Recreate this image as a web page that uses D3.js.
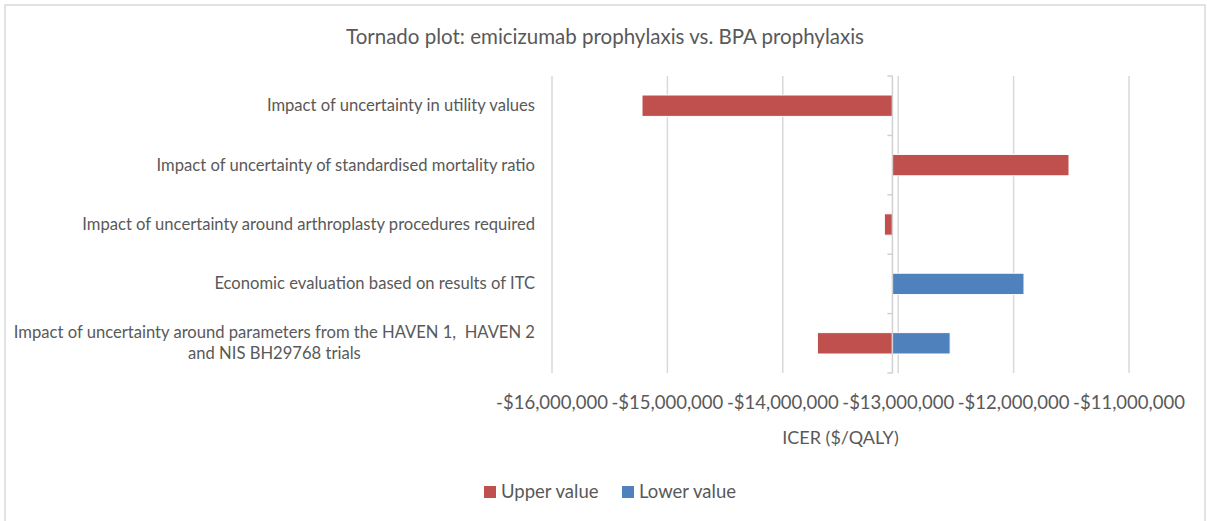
<!DOCTYPE html>
<html>
<head>
<meta charset="utf-8">
<script src="https://cdn.jsdelivr.net/npm/d3@7"></script>
<style>
	body { margin: 0; background: #fff; }
	text { font-family: Lato, "Noto Sans", sans-serif; fill: #595959; white-space: pre; }
</style>
</head>
<body>
<div id="chart"></div>
<script>

// values
var categories = [
	"Impact of uncertainty in utility values",
	"Impact of uncertainty of standardised mortality ratio",
	"Impact of uncertainty around arthroplasty procedures required",
	"Economic evaluation based on results of ITC",
	["Impact of uncertainty around parameters from the HAVEN 1,  HAVEN 2", "and NIS BH29768 trials"]
]

var baseValue = -13050000

var upperValues = [-15220000, -11520000, -13120000, null, -13700000]

var lowerValues = [null, null, null, -11910000, -12550000]

var xTicks = [-16000000, -15000000, -14000000, -13000000, -12000000, -11000000]

var seriesNames = ["Upper value", "Lower value"]

var colours = ["#C0504D", "#4F81BD"]

var width = 1207
var height = 521

var svg = d3.select("#chart").append("svg")
	.attr("width", width)
	.attr("height", height)

// chart area border
svg.append("rect")
	.attr("x", 5)
	.attr("y", 5)
	.attr("width", 1200)
	.attr("height", 530)
	.attr("fill", "none")
	.attr("stroke", "#d9d9d9")
	.attr("stroke-width", 1.5)

svg.append("text")
	.attr("x", 605)
	.attr("y", 44)
	.attr("text-anchor", "middle")
	.style("font-size", "20.5px")
	.text("Tornado plot: emicizumab prophylaxis vs. BPA prophylaxis")

var x = d3.scaleLinear()
	.domain([-16000000, -11000000])
	.range([552, 1129])

var y = d3.scaleBand()
	.domain(d3.range(categories.length))
	.range([76, 373])
	.paddingInner(0.64)
	.paddingOuter(0.32)

var fmt = d => "-$" + d3.format(",")(Math.abs(d))

// gridlines
svg.append("g")
	.selectAll("line")
	.data(xTicks)
	.enter()
	.append("line")
	.attr("x1", d => x(d))
	.attr("x2", d => x(d))
	.attr("y1", 76)
	.attr("y2", 373)
	.attr("stroke", "#d9d9d9")
	.attr("stroke-width", 1.5)

// tick labels
svg.append("g")
	.selectAll("text")
	.data(xTicks)
	.enter()
	.append("text")
	.attr("x", d => x(d))
	.attr("y", 409)
	.attr("text-anchor", "middle")
	.style("font-size", "18.5px")
	.text(fmt)

svg.append("text")
	.attr("x", (x.range()[0] + x.range()[1]) / 2)
	.attr("y", 444)
	.attr("text-anchor", "middle")
	.style("font-size", "18px")
	.text("ICER ($/QALY)")

// bars
var bars = []
categories.forEach(function(c, i) {
	if (upperValues[i] != null) bars.push({ i: i, v: upperValues[i], s: 0 })
	if (lowerValues[i] != null) bars.push({ i: i, v: lowerValues[i], s: 1 })
})

svg.append("g")
	.selectAll("rect")
	.data(bars)
	.enter()
	.append("rect")
	.attr("x", d => Math.min(x(d.v), x(baseValue)))
	.attr("width", d => Math.abs(x(d.v) - x(baseValue)))
	.attr("y", d => y(d.i))
	.attr("height", y.bandwidth())
	.attr("fill", d => colours[d.s])
	.attr("stroke", "#fff")
	.attr("stroke-width", 1)

// category axis at the base value
var axisX = x(baseValue)

svg.append("line")
	.attr("x1", axisX)
	.attr("x2", axisX)
	.attr("y1", 76)
	.attr("y2", 373)
	.attr("stroke", "#d0d0d0")
	.attr("stroke-width", 1.5)

var step = (373 - 76) / categories.length

svg.append("g")
	.selectAll("line")
	.data(d3.range(categories.length + 1))
	.enter()
	.append("line")
	.attr("x1", axisX - 5)
	.attr("x2", axisX)
	.attr("y1", d => 76 + d * step)
	.attr("y2", d => 76 + d * step)
	.attr("stroke", "#d0d0d0")
	.attr("stroke-width", 1.5)

// category labels
var labelX = 535

categories.forEach(function(c, i) {
	var cy = y(i) + y.bandwidth() / 2
	if (Array.isArray(c)) {
		var first = svg.append("text")
			.attr("x", labelX)
			.attr("y", cy - 5)
			.attr("text-anchor", "end")
			.style("font-size", "16.6px")
			.text(c[0])
		var w = first.node().getComputedTextLength()
		svg.append("text")
			.attr("x", labelX - w / 2)
			.attr("y", cy + 16)
			.attr("text-anchor", "middle")
			.style("font-size", "16.6px")
			.text(c[1])
	} else {
		svg.append("text")
			.attr("x", labelX)
			.attr("y", cy + 5.5)
			.attr("text-anchor", "end")
			.style("font-size", "16.6px")
			.text(c)
	}
})

// legend
var legend = svg.append("g")

var legendX = [484, 622]

seriesNames.forEach(function(name, i) {
	legend.append("rect")
		.attr("x", legendX[i])
		.attr("y", 486)
		.attr("width", 12)
		.attr("height", 12)
		.attr("fill", colours[i])
	legend.append("text")
		.attr("x", legendX[i] + 17)
		.attr("y", 498)
		.style("font-size", "18.5px")
		.text(name)
})

</script>
</body>
</html>
